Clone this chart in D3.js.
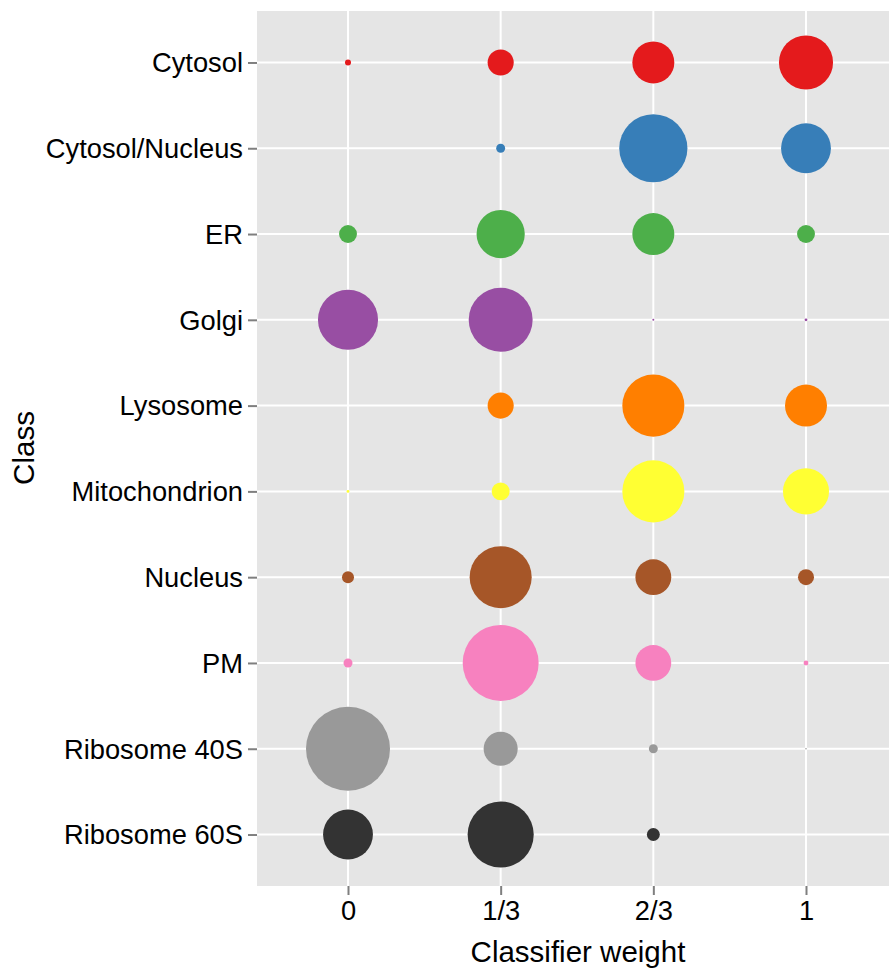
<!DOCTYPE html>
<html><head><meta charset="utf-8">
<script src="https://cdn.jsdelivr.net/npm/d3@7"></script>
<style>body{margin:0;background:#fff}svg{display:block}</style>
</head><body><svg id="c" width="889" height="970"></svg>
<script>
const classes = ["Cytosol","Cytosol/Nucleus","ER","Golgi","Lysosome","Mitochondrion","Nucleus","PM","Ribosome 40S","Ribosome 60S"];
const weights = [0, 1/3, 2/3, 1];
const weightLabels = ["0","1/3","2/3","1"];
const colors = ["#E41A1C","#377EB8","#4DAF4A","#984EA3","#FF7F00","#FFFF33","#A65628","#F781BF","#999999","#333333"];
// relative sizes (area-proportional) per class, for weights 0, 1/3, 2/3, 1
const sizeCytosol        = [0.9, 17, 44, 73];
const sizeCytosolNucleus = [0, 2, 116, 62];
const sizeER             = [8, 58, 44, 8];
const sizeGolgi          = [90, 102, 0.1, 0.2];
const sizeLysosome       = [0, 17, 96, 44];
const sizeMitochondrion  = [0.2, 8, 96, 53];
const sizeNucleus        = [3.6, 96, 32, 6.4];
const sizePM             = [2, 144, 32, 0.6];
const sizeRibosome40S    = [176, 29, 2, 0.06];
const sizeRibosome60S    = [62, 109, 4.2, 0];
const sizes = [sizeCytosol,sizeCytosolNucleus,sizeER,sizeGolgi,sizeLysosome,sizeMitochondrion,sizeNucleus,sizePM,sizeRibosome40S,sizeRibosome60S];

const svg = d3.select("#c");
const P = {l:257, r:889, t:11, b:886};
const x = d3.scaleLinear().domain([0,1]).range([348,806]);
const y = d3.scalePoint().domain(classes).range([P.t,P.b]).padding(0.6);
const r = d3.scaleSqrt().domain([0,176]).range([0,42]);
const font = "Liberation Sans, Arial, sans-serif";

svg.append("rect").attr("x",P.l).attr("y",P.t).attr("width",P.r-P.l).attr("height",P.b-P.t).attr("fill","#E5E5E5");
const g = svg.append("g");
g.selectAll("line.h").data(classes).join("line").attr("x1",P.l).attr("x2",P.r).attr("y1",d=>y(d)).attr("y2",d=>y(d)).attr("stroke","#fff").attr("stroke-width",2);
g.selectAll("line.v").data(weights).join("line").attr("y1",P.t).attr("y2",P.b).attr("x1",d=>x(d)).attr("x2",d=>x(d)).attr("stroke","#fff").attr("stroke-width",2);

const pts = [];
classes.forEach((c,i)=>weights.forEach((w,j)=>pts.push({c,w,v:sizes[i][j],col:colors[i]})));
g.selectAll("circle").data(pts.filter(d=>d.v>0)).join("circle")
  .attr("cx",d=>x(d.w)).attr("cy",d=>y(d.c)).attr("r",d=>r(d.v)).attr("fill",d=>d.col);

// y axis
const ya = svg.append("g").attr("transform",`translate(${P.l},0)`)
  .call(d3.axisLeft(y).tickSize(9).tickPadding(5));
ya.select(".domain").remove();
ya.selectAll(".tick line").attr("stroke","#7F7F7F").attr("stroke-width",2);
ya.selectAll(".tick text").attr("font-family",font).attr("font-size",27.3).attr("fill","#000").attr("dy","0.34em");
// x axis
const xa = svg.append("g").attr("transform",`translate(0,${P.b})`)
  .call(d3.axisBottom(x).tickValues(weights).tickFormat((d,i)=>weightLabels[i]).tickSize(9).tickPadding(6));
xa.select(".domain").remove();
xa.selectAll(".tick line").attr("stroke","#7F7F7F").attr("stroke-width",2);
xa.selectAll(".tick text").attr("font-family",font).attr("font-size",27.3).attr("fill","#000");

svg.append("text").attr("x",(P.l+P.r)/2+5).attr("y",962).attr("text-anchor","middle")
  .attr("font-family",font).attr("font-size",29.5).text("Classifier weight");
svg.append("text").attr("transform","translate(34,448) rotate(-90)").attr("text-anchor","middle")
  .attr("font-family",font).attr("font-size",29.5).text("Class");
</script></body></html>
